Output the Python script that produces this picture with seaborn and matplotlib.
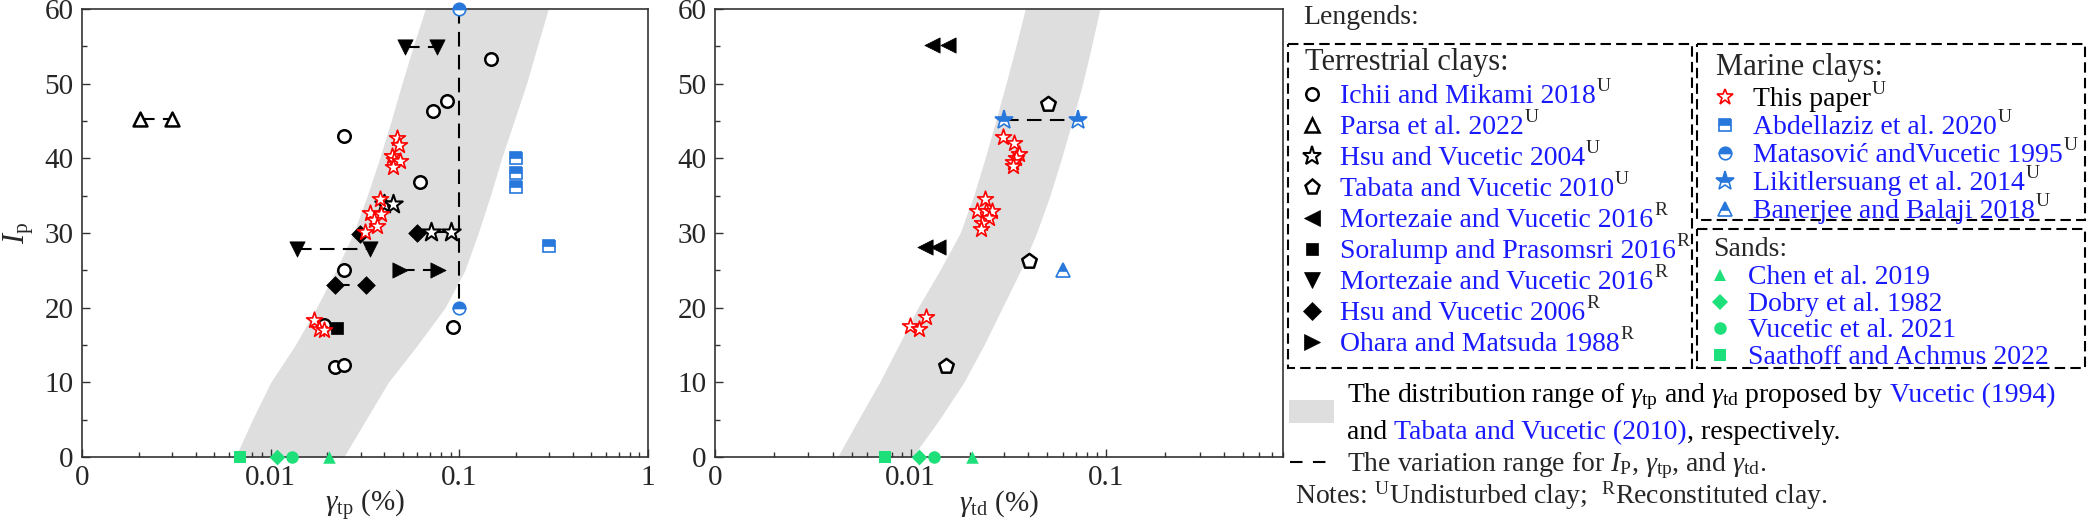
import numpy as np
import pandas as pd
import matplotlib
matplotlib.use("Agg")
import matplotlib.pyplot as plt
import seaborn as sns
from matplotlib.patches import Rectangle
from matplotlib.ticker import LogLocator, MultipleLocator, NullFormatter

# ---- data ----
# shaded band (Vucetic 1994 / Tabata and Vucetic 2010)
band_ip = [0, 5, 10, 15, 20, 25, 30, 35, 40, 45, 50, 55, 60]
band_tp_lo = [0.0065, 0.0080, 0.0100, 0.0135, 0.0175, 0.0222, 0.0275,
              0.0325, 0.0378, 0.0435, 0.0496, 0.057, 0.066]
band_tp_hi = [0.0244, 0.0320, 0.042, 0.060, 0.084, 0.107, 0.126,
              0.146, 0.1675, 0.195, 0.227, 0.259, 0.296]
band_td_lo = [0.00423, 0.0054, 0.00694, 0.0087, 0.0109, 0.0141, 0.0179,
              0.0210, 0.0240, 0.0272, 0.0307, 0.0345, 0.0385]
band_td_hi = [0.0102, 0.0140, 0.0187, 0.0237, 0.0294, 0.0365, 0.0440,
              0.0515, 0.059, 0.067, 0.0757, 0.084, 0.0927]

# gamma_tp panel
tp_paper_x = [0.0467, 0.0476, 0.0439, 0.0452, 0.0482, 0.0445, 0.0378, 0.0337,
              0.0385, 0.0351, 0.0366, 0.0318, 0.0169, 0.0180, 0.0191]
tp_paper_ip = [42.7, 41.8, 40.3, 39.8, 39.6, 38.9, 34.5, 32.7,
               32.5, 31.8, 30.9, 30.2, 18.3, 17.1, 17.0]
ichii_x = [0.0244, 0.0723, 0.0857, 0.148, 0.062, 0.0244, 0.022, 0.0244, 0.0191, 0.0929]
ichii_ip = [43.0, 46.4, 47.7, 53.3, 36.8, 25.0, 12.1, 12.3, 17.7, 17.4]
parsa_x = [0.00202, 0.00299]
parsa_ip = [45.3, 45.3]
hsu04_x = [0.040, 0.0445, 0.0708, 0.0904]
hsu04_ip = [33.9, 33.9, 30.1, 30.1]
soralump_x = [0.0225]
soralump_ip = [17.3]
mortv_x = [0.0516, 0.0765, 0.0138, 0.0337]
mortv_ip = [54.9, 54.9, 27.9, 27.9]
hsu06_x = [0.0296, 0.0595, 0.022, 0.0321]
hsu06_ip = [29.9, 30.0, 23.1, 23.1]
ohara_x = [0.0486, 0.0774]
ohara_ip = [25.1, 25.1]
abdel_x = [0.2, 0.2, 0.2, 0.3]
abdel_ip = [40.0, 38.1, 36.1, 28.2]
matas_x = [0.1, 0.1]
matas_ip = [60, 20]
tp_sand_x = {"chen": [0.0203], "dobry": [0.01076], "vucetic": [0.0129], "saathoff": [0.00689]}

# gamma_td panel
td_paper_x = [0.0298, 0.0339, 0.0359, 0.0344, 0.0335, 0.0333, 0.0240, 0.0219,
              0.0243, 0.0262, 0.0251, 0.0232, 0.0229, 0.00995, 0.0110, 0.0120]
td_paper_ip = [42.9, 42.0, 40.6, 40.0, 39.5, 39.0, 34.6, 32.9,
               32.9, 32.9, 32.0, 31.3, 30.5, 17.5, 17.2, 18.7]
mortl_x = [0.0129, 0.0156, 0.0119, 0.0138]
mortl_ip = [55.2, 55.2, 28.1, 28.1]
tabata_x = [0.0504, 0.0403, 0.0151]
tabata_ip = [47.3, 26.2, 12.2]
likit_x = [0.030, 0.0713]
likit_ip = [45.1, 45.1]
banerjee_x = [0.0598]
banerjee_ip = [25.1]
td_sand_x = {"chen": [0.0207], "dobry": [0.0110], "vucetic": [0.0132], "saathoff": [0.00736]}

# ---- styles ----
BLUE = "#2878dc"
GREEN = "#1ee07a"
TXTBLUE = "#1a1aff"
BAND = "#dedede"
DASH = (0, (7, 4))

st = {
    "ichii": dict(marker="o", ms=9, mfc="white", mec="black", mew=1.8),
    "parsa": dict(marker="^", ms=10, mfc="white", mec="black", mew=1.8),
    "hsu04": dict(marker="*", ms=14, mfc="white", mec="black", mew=1.5),
    "tabata": dict(marker="p", ms=11, mfc="white", mec="black", mew=1.8),
    "mortl": dict(marker="<", ms=11, mfc="black", mec="black", mew=0.5),
    "soralump": dict(marker="s", ms=9, mfc="black", mec="black", mew=0.5),
    "mortv": dict(marker="v", ms=11, mfc="black", mec="black", mew=0.5),
    "hsu06": dict(marker="D", ms=9, mfc="black", mec="black", mew=0.5),
    "ohara": dict(marker=">", ms=11, mfc="black", mec="black", mew=0.5),
    "paper": dict(marker="*", ms=12, mfc="white", mec="red", mew=1.2),
    "chen": dict(marker="^", ms=9, mfc=GREEN, mec=GREEN, mew=0),
    "dobry": dict(marker="D", ms=8, mfc=GREEN, mec=GREEN, mew=0),
    "vucetic": dict(marker="o", ms=9, mfc=GREEN, mec=GREEN, mew=0),
    "saathoff": dict(marker="s", ms=8, mfc=GREEN, mec=GREEN, mew=0),
}
half = {
    "abdel": dict(marker="s", ms=8),
    "matas": dict(marker="o", ms=9),
    "likit": dict(marker="*", ms=14),
    "banerjee": dict(marker="^", ms=10),
}
for k in half:
    half[k].update(mfc=BLUE, mfcalt="white", mec=BLUE, mew=1.2, fillstyle="top")

sns.set_style("ticks")
plt.rcParams["font.family"] = "serif"
plt.rcParams["font.serif"] = ["Liberation Serif", "DejaVu Serif"]
plt.rcParams["mathtext.fontset"] = "custom"
plt.rcParams["mathtext.rm"] = "Liberation Serif"
plt.rcParams["mathtext.it"] = "Liberation Serif:italic"
plt.rcParams["mathtext.bf"] = "Liberation Serif:bold"

W, H = 2088, 529
fig = plt.figure(figsize=(W / 100, H / 100), dpi=100)
ax1 = fig.add_axes([82 / W, 72 / H, 566 / W, 448 / H])
ax2 = fig.add_axes([715 / W, 72 / H, 568 / W, 448 / H])


def scat(ax, x, y, s):
    df = pd.DataFrame({"x": x, "y": y})
    sns.scatterplot(data=df, x="x", y="y", ax=ax, marker=s["marker"], s=s["ms"] ** 2,
                    color=s["mfc"], edgecolor=s["mec"], linewidth=s["mew"],
                    zorder=4, clip_on=False, legend=False)


def halfplot(ax, x, y, s):
    ax.plot(x, y, ls="none", zorder=4, clip_on=False, **s)


def seg(ax, x, y):
    ax.plot(x, y, color="black", ls=DASH, lw=1.5, zorder=2)


def style(ax, xmax, ticks, labels, xlabel):
    ax.set_xscale("log")
    ax.set_xlim(0.001, xmax)
    ax.set_ylim(0, 60)
    ax.set_xticks(ticks)
    ax.set_xticklabels(labels)
    ax.xaxis.set_minor_locator(LogLocator(base=10, subs=np.arange(2, 10)))
    ax.xaxis.set_minor_formatter(NullFormatter())
    ax.set_yticks(range(0, 61, 10))
    ax.yaxis.set_minor_locator(MultipleLocator(5))
    ax.tick_params(which="both", direction="in", top=False, right=False,
                   labelsize=21, width=1, color="#333333", pad=6)
    ax.tick_params(which="major", length=6)
    ax.tick_params(which="minor", length=3.5)
    for sp in ax.spines.values():
        sp.set_color("#333333")
        sp.set_linewidth(1.2)
    ax.set_xlabel(xlabel, fontsize=21)
    ax.xaxis.set_label_coords(0.5, -0.07)
    ax.set_ylabel("")


# left panel
ax1.fill_betweenx(band_ip, band_tp_lo, band_tp_hi, color=BAND, lw=0, zorder=0.5)
seg(ax1, parsa_x, parsa_ip)
seg(ax1, mortv_x[:2], mortv_ip[:2])
seg(ax1, mortv_x[2:], mortv_ip[2:])
seg(ax1, hsu06_x[2:], hsu06_ip[2:])
seg(ax1, ohara_x, ohara_ip)
seg(ax1, hsu04_x[2:], hsu04_ip[2:])
seg(ax1, matas_x, matas_ip)
scat(ax1, ichii_x, ichii_ip, st["ichii"])
scat(ax1, parsa_x, parsa_ip, st["parsa"])
scat(ax1, hsu04_x, hsu04_ip, st["hsu04"])
scat(ax1, soralump_x, soralump_ip, st["soralump"])
scat(ax1, mortv_x, mortv_ip, st["mortv"])
scat(ax1, hsu06_x, hsu06_ip, st["hsu06"])
scat(ax1, ohara_x, ohara_ip, st["ohara"])
scat(ax1, tp_paper_x, tp_paper_ip, st["paper"])
halfplot(ax1, abdel_x, abdel_ip, half["abdel"])
halfplot(ax1, matas_x, matas_ip, half["matas"])
for k, xs in tp_sand_x.items():
    scat(ax1, xs, [0] * len(xs), st[k])
style(ax1, 1, [0.001, 0.01, 0.1, 1], ["0", "0.01", "0.1", "1"],
      r"$\gamma_{\mathrm{tp}}$ (%)")
ax1.set_ylabel(r"$I_{\mathrm{p}}$", fontsize=22)
ax1.yaxis.set_label_coords(-0.082, 0.5)

# right panel
ax2.fill_betweenx(band_ip, band_td_lo, band_td_hi, color=BAND, lw=0, zorder=0.5)
seg(ax2, likit_x, likit_ip)
scat(ax2, mortl_x, mortl_ip, st["mortl"])
scat(ax2, tabata_x, tabata_ip, st["tabata"])
scat(ax2, td_paper_x, td_paper_ip, st["paper"])
halfplot(ax2, likit_x, likit_ip, half["likit"])
halfplot(ax2, banerjee_x, banerjee_ip, half["banerjee"])
for k, xs in td_sand_x.items():
    scat(ax2, xs, [0] * len(xs), st[k])
style(ax2, 0.8, [0.001, 0.01, 0.1], ["0", "0.01", "0.1"],
      r"$\gamma_{\mathrm{td}}$ (%)")

# ---- legend panel, laid out in pixel units ----
axl = fig.add_axes([0, 0, 1, 1])
axl.set_xlim(0, W)
axl.set_ylim(H, 0)
axl.axis("off")
renderer = fig.canvas.get_renderer()

terr_names = ["Ichii and Mikami 2018", "Parsa et al. 2022", "Hsu and Vucetic 2004",
              "Tabata and Vucetic 2010", "Mortezaie and Vucetic 2016",
              "Soralump and Prasomsri 2016", "Mortezaie and Vucetic 2016",
              "Hsu and Vucetic 2006", "Ohara and Matsuda 1988"]
terr_keys = ["ichii", "parsa", "hsu04", "tabata", "mortl", "soralump", "mortv", "hsu06", "ohara"]
terr_sup = ["U", "U", "U", "U", "R", "R", "R", "R", "R"]
marine_names = ["This paper", "Abdellaziz et al. 2020", "Matasović andVucetic 1995",
                "Likitlersuang et al. 2014", "Banerjee and Balaji 2018"]
marine_keys = ["paper", "abdel", "matas", "likit", "banerjee"]
sand_names = ["Chen et al. 2019", "Dobry et al. 1982", "Vucetic et al. 2021",
              "Saathoff and Achmus 2022"]
sand_keys = ["chen", "dobry", "vucetic", "saathoff"]

box_kw = dict(fill=False, ec="black", lw=1.5, ls=(0, (5, 2.5)))
axl.add_patch(Rectangle((1288, 44), 404, 324, **box_kw))
axl.add_patch(Rectangle((1697, 44), 388, 176, **box_kw))
axl.add_patch(Rectangle((1697, 229), 388, 139, **box_kw))

axl.text(1303, 24, "Lengends:", fontsize=20, va="baseline")
axl.text(1305, 70, "Terrestrial clays:", fontsize=22, va="baseline")
axl.text(1716, 75, "Marine clays:", fontsize=22, va="baseline")
axl.text(1713, 256, "Sands:", fontsize=20, va="baseline")


def entry(mx, tx, yb, key, name, sup, color):
    s = st.get(key) or half.get(key)
    axl.plot([mx], [yb - 9], ls="none", clip_on=False, **s)
    t = axl.text(tx, yb, name, fontsize=20, color=color, va="baseline")
    if sup:
        bb = t.get_window_extent(renderer)
        axl.text(bb.x1 + 1, yb - 12, sup, fontsize=14, va="baseline")


for i, (n, k, s) in enumerate(zip(terr_names, terr_keys, terr_sup)):
    entry(1312, 1340, 103 + 31 * i, k, n, s, TXTBLUE)
for i, (n, k) in enumerate(zip(marine_names, marine_keys)):
    entry(1725, 1753, 106 + 28 * i, k, n, "U", "black" if i == 0 else TXTBLUE)
for i, (n, k) in enumerate(zip(sand_names, sand_keys)):
    entry(1720, 1748, 284 + 26.7 * i, k, n, "", TXTBLUE)


def chain(x, y, parts):
    for gap, txt, col in parts:
        t = axl.text(x + gap, y, txt, fontsize=20, color=col, va="baseline")
        x = t.get_window_extent(renderer).x1


axl.add_patch(Rectangle((1289, 400), 45, 23, color=BAND, lw=0))
chain(1347, 402, [(0, r"The distribution range of $\gamma_{\mathrm{tp}}$ and "
                     r"$\gamma_{\mathrm{td}}$ proposed by", "black"),
                  (7, "Vucetic (1994)", TXTBLUE)])
chain(1347, 439, [(0, "and", "black"), (7, "Tabata and Vucetic (2010)", TXTBLUE),
                  (0, ", respectively.", "black")])
axl.plot([1290, 1328], [462, 462], color="black", lw=1.5, ls=(0, (6, 5)))
axl.text(1347, 471, r"The variation range for $I_{\mathrm{P}}$, $\gamma_{\mathrm{tp}}$, "
                    r"and $\gamma_{\mathrm{td}}$.", fontsize=20, va="baseline")
axl.text(1295, 504, r"Notes: ${}^{\mathrm{U}}$Undisturbed clay;  "
                    r"${}^{\mathrm{R}}$Reconstituted clay.", fontsize=20, va="baseline")

fig.savefig("out.png", dpi=100)
